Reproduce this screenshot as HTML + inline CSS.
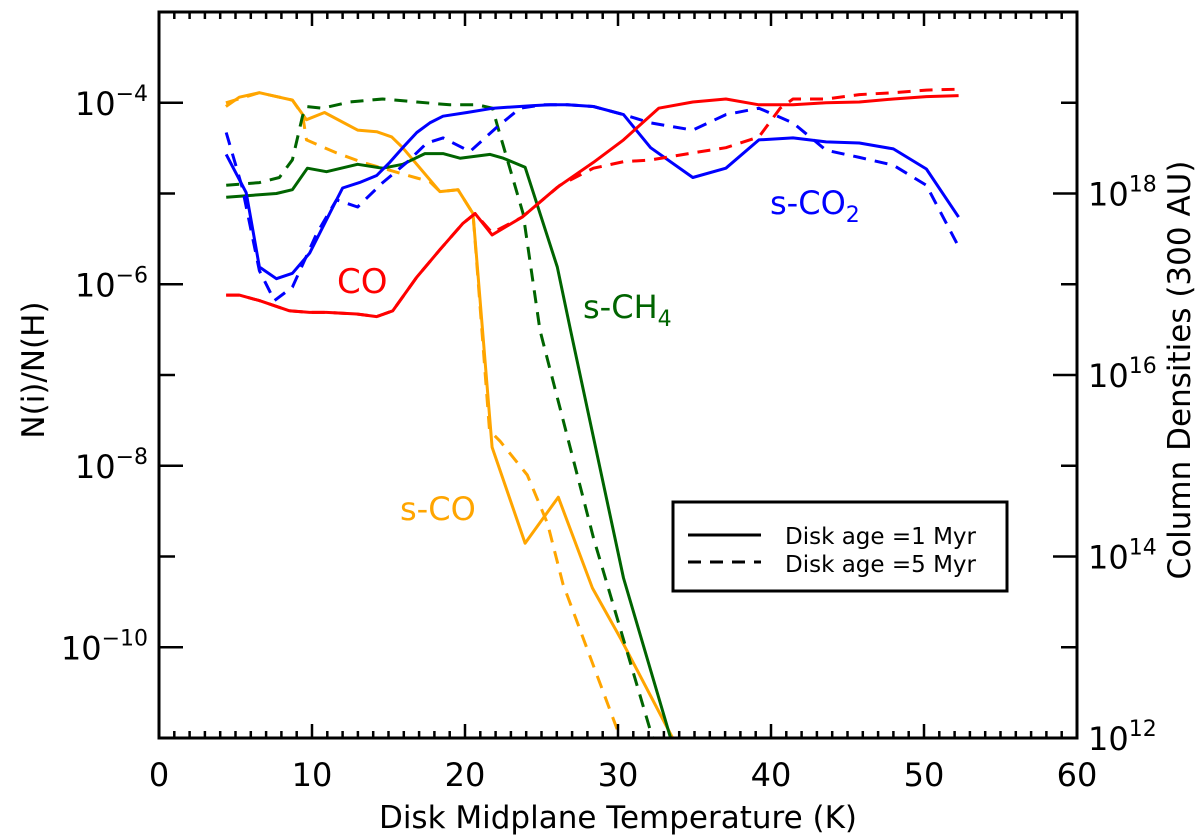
<!DOCTYPE html>
<html><head><meta charset="utf-8"><style>
html,body{margin:0;padding:0;background:#fff;}
svg{display:block;font-family:"DejaVu Sans","Liberation Sans",sans-serif;}
</style></head><body>
<svg id="chart" width="1200" height="839" viewBox="0 0 1200 839" xmlns="http://www.w3.org/2000/svg">
<defs><clipPath id="plotclip"><rect x="159" y="12" width="918" height="726"/></clipPath></defs>
<g id="series" clip-path="url(#plotclip)"></g>
<g id="axes"></g>
<text x="337" y="293" font-size="34" fill="#ff0000">CO</text>
<text x="583" y="318" font-size="32" fill="#006400">s-CH<tspan font-size="22" dy="8">4</tspan></text>
<text x="400" y="520" font-size="32" fill="#ffa500">s-CO</text>
<text x="770" y="214" font-size="32" fill="#0000ff">s-CO<tspan font-size="22" dy="8">2</tspan></text>
<g>
<rect x="673" y="502" width="334" height="89" fill="#fff" stroke="#000" stroke-width="3"/>
<line x1="688" y1="535" x2="761" y2="535" stroke="#000" stroke-width="3"/>
<line x1="688" y1="562" x2="761" y2="562" stroke="#000" stroke-width="3" stroke-dasharray="13,9"/>
<text x="785" y="544" font-size="23">Disk age =1 Myr</text>
<text x="785" y="572" font-size="23">Disk age =5 Myr</text>
</g>
<text x="618" y="828" font-size="31" text-anchor="middle">Disk Midplane Temperature (K)</text>
<text transform="translate(44,370) rotate(-90)" font-size="31" text-anchor="middle">N(i)/N(H)</text>
<text transform="translate(1190,370) rotate(-90)" font-size="31" text-anchor="middle">Column Densities (300 AU)</text>
<script>
// Data: temperature (K) and abundance N(i)/N(H)
const coSolidT=[4.39,5.25,6.56,8.52,9.84,10.95,12.92,14.23,15.28,16.85,18.36,19.87,20.66,21.77,23.74,26.03,28.39,30.36,32.66,34.89,37.05,39.21,41.44,43.6,45.77,48.0,50.16,52.26];
const coSolidV=[7.6e-7,7.6e-7,6.6e-7,5.1e-7,4.9e-7,4.9e-7,4.7e-7,4.4e-7,5.1e-7,1.2e-6,2.4e-6,4.7e-6,6.0e-6,3.5e-6,5.5e-6,1.17e-5,2.2e-5,3.9e-5,8.7e-5,1.02e-4,1.1e-4,9.5e-5,9.5e-5,1.0e-4,1.02e-4,1.1e-4,1.17e-4,1.2e-4];
const coDashT=[4.39,5.25,6.56,8.52,9.84,10.95,12.92,14.23,15.28,16.85,18.36,19.87,20.66,21.77,23.74,26.2,28.39,30.36,32.13,34.89,37.05,39.21,40.6,41.44,43.6,45.77,48.0,50.16,52.26];
const coDashV=[7.6e-7,7.6e-7,6.6e-7,5.1e-7,4.9e-7,4.9e-7,4.7e-7,4.4e-7,5.1e-7,1.2e-6,2.4e-6,4.7e-6,6.0e-6,3.7e-6,5.5e-6,1.23e-5,1.9e-5,2.24e-5,2.34e-5,2.8e-5,3.2e-5,4.2e-5,8.7e-5,1.1e-4,1.1e-4,1.23e-4,1.29e-4,1.38e-4,1.41e-4];
const ch4SolidT=[4.39,7.67,8.72,9.7,10.95,12.98,14.62,15.93,17.38,18.56,19.67,21.64,22.5,23.93,26.03,26.9,30.36,33.44,35.5];
const ch4SolidV=[9.1e-6,1.0e-5,1.1e-5,1.9e-5,1.74e-5,2.1e-5,1.9e-5,2.1e-5,2.75e-5,2.75e-5,2.45e-5,2.7e-5,2.45e-5,1.95e-5,1.55e-6,3.1e-7,5.8e-10,1.0e-11,1.0e-12];
const ch4DashT=[4.39,6.56,7.87,8.72,9.38,9.64,10.69,12.46,14.62,16.85,19.0,20.8,21.8,22.1,23.8,24.9,28.4,32.26,34.0];
const ch4DashV=[1.23e-5,1.32e-5,1.5e-5,2.35e-5,7.1e-5,9.1e-5,8.7e-5,1.02e-4,1.1e-4,1.02e-4,9.5e-5,9.5e-5,8.7e-5,5.75e-5,6.0e-6,3.1e-7,1.6e-9,1.0e-11,1.0e-12];
const scoSolidT=[4.37,5.25,6.56,7.67,8.72,9.64,10.82,12.98,14.23,15.21,15.93,18.36,19.54,20.52,21.77,23.93,26.1,28.33,30.16,33.57,36.0];
const scoSolidV=[9.1e-5,1.15e-4,1.29e-4,1.17e-4,1.07e-4,6.5e-5,7.8e-5,5.0e-5,4.8e-5,4.2e-5,3.2e-5,1.05e-5,1.1e-5,6.0e-6,1.6e-8,1.4e-9,4.5e-9,4.5e-10,1.26e-10,1.0e-11,1.0e-12];
const scoDashT=[4.37,6.56,8.72,9.38,9.64,11.6,13.3,16.85,17.7,18.36,19.54,20.52,21.6,22.3,24.07,25.4,26.4,30.16,32.0];
const scoDashV=[1.0e-4,1.29e-4,1.07e-4,7.4e-5,3.9e-5,2.8e-5,2.2e-5,1.48e-5,1.35e-5,1.05e-5,1.1e-5,6.0e-6,2.45e-8,1.86e-8,7.9e-9,2.3e-9,5.0e-10,1.0e-11,2.5e-12];
const co2SolidT=[4.39,5.7,6.56,7.67,8.72,9.84,11.15,12.0,13.1,14.23,15.08,15.93,16.85,17.7,18.56,20.13,21.84,24.46,25.57,26.69,28.39,30.36,32.13,34.89,37.05,39.21,41.44,43.6,45.77,48.0,50.16,52.26];
const co2SolidV=[2.7e-5,1.02e-5,1.55e-6,1.15e-6,1.32e-6,2.2e-6,6.0e-6,1.15e-5,1.32e-5,1.58e-5,2.2e-5,3.2e-5,4.7e-5,6.0e-5,7.1e-5,7.8e-5,8.7e-5,9.3e-5,9.5e-5,9.5e-5,9.1e-5,7.4e-5,3.2e-5,1.5e-5,1.9e-5,3.9e-5,4.1e-5,3.7e-5,3.6e-5,3.1e-5,1.86e-5,5.5e-6];
const co2DashT=[4.39,5.44,6.56,7.54,8.72,10.3,11.6,12.98,14.62,16.2,17.5,18.56,20.33,22.1,23.6,25.1,26.69,28.39,30.36,32.13,34.89,37.05,39.21,41.44,43.6,45.77,48.0,50.16,52.26];
const co2DashV=[4.7e-5,1.17e-5,1.41e-6,6.6e-7,9.3e-7,3.6e-6,8.5e-6,7.1e-6,1.32e-5,2.2e-5,3.6e-5,4.1e-5,2.9e-5,5.4e-5,8.7e-5,9.5e-5,9.5e-5,9.1e-5,7.4e-5,6.0e-5,5.0e-5,7.4e-5,8.7e-5,6.0e-5,3.0e-5,2.5e-5,2.05e-5,1.23e-5,2.6e-6];
const xTicks=[0,10,20,30,40,50,60];
const yTickExps=[-4,-6,-8,-10];
const rightTickExps=[12,14,16,18];

const NS='http://www.w3.org/2000/svg';
const L=159,R=1077,T=12,B=738,xMin=0,xMax=60,yMinE=-11,yMaxE=-3;
function xs(v){return L+(v-xMin)/(xMax-xMin)*(R-L);}
function ys(v){return B-(Math.log10(v)-yMinE)/(yMaxE-yMinE)*(B-T);}
function yE(e){return B-(e-yMinE)/(yMaxE-yMinE)*(B-T);}
function yR(e){return yE(e-23);}
const sg=document.getElementById('series');
function series(tArr,vArr,color,dashed,name){
  const p=document.createElementNS(NS,'polyline');
  p.setAttribute('points',tArr.map((t,i)=>xs(t).toFixed(1)+','+ys(vArr[i]).toFixed(1)).join(' '));
  p.setAttribute('fill','none');p.setAttribute('stroke',color);p.setAttribute('stroke-width','3');
  p.setAttribute('stroke-linejoin','round');
  if(dashed)p.setAttribute('stroke-dasharray','13,9');
  
  
  sg.appendChild(p);
}
series(scoSolidT,scoSolidV,'#ffa500',false,'s-co-1myr-line');
series(scoDashT,scoDashV,'#ffa500',true,'s-co-5myr-line');
series(ch4SolidT,ch4SolidV,'#006400',false,'s-ch4-1myr-line');
series(ch4DashT,ch4DashV,'#006400',true,'s-ch4-5myr-line');
series(co2SolidT,co2SolidV,'#0000ff',false,'s-co2-1myr-line');
series(co2DashT,co2DashV,'#0000ff',true,'s-co2-5myr-line');
series(coSolidT,coSolidV,'#ff0000',false,'co-1myr-line');
series(coDashT,coDashV,'#ff0000',true,'co-5myr-line');

const ax=document.getElementById('axes');
function line(x1,y1,x2,y2,w,name){
  const l=document.createElementNS(NS,'line');
  l.setAttribute('x1',x1);l.setAttribute('y1',y1);l.setAttribute('x2',x2);l.setAttribute('y2',y2);
  l.setAttribute('stroke','#000');l.setAttribute('stroke-width',w);
  
  
  ax.appendChild(l);
}
function txt(x,y,s,size,anchor,name){
  const t=document.createElementNS(NS,'text');
  t.setAttribute('x',x);t.setAttribute('y',y);t.setAttribute('font-size',size);
  t.setAttribute('text-anchor',anchor);t.textContent=s;
  
  
  ax.appendChild(t);return t;
}
function pow(x,y,base,exp,anchor,name){
  const t=txt(x,y,'',32,anchor,name);
  const a=document.createElementNS(NS,'tspan');a.textContent=base;t.appendChild(a);
  const b=document.createElementNS(NS,'tspan');b.textContent=exp;b.setAttribute('font-size','22');b.setAttribute('dy','-14');t.appendChild(b);
}
const frame=document.createElementNS(NS,'rect');
frame.setAttribute('x',L);frame.setAttribute('y',T);frame.setAttribute('width',R-L);frame.setAttribute('height',B-T);
frame.setAttribute('fill','none');frame.setAttribute('stroke','#000');frame.setAttribute('stroke-width','3');


ax.appendChild(frame);
for(let k=1;k<60;k++){
  const x=xs(k),len=(k%10===0)?14:7;
  line(x,B,x,B-len,2.5,'x-tick');
  line(x,T,x,T+len,2.5,'x-tick-top');
}
xTicks.forEach(v=>txt(xs(v),786,String(v),32,'middle','x-tick-label'));
for(let e=-10;e<=-4;e++){
  const y=yE(e),len=(e%2===0)?24:16;
  line(L,y,L+len,y,2.5,'y-tick');
}
yTickExps.forEach(e=>pow(148,yE(e)+12,'10','\u2212'+Math.abs(e),'end','y-tick-label'));
for(let e=12;e<=19;e++){
  const y=yR(e),len=(e%2===0)?24:16;
  line(R,y,R-len,y,2.5,'right-tick');
}
rightTickExps.forEach(e=>pow(1088,yR(e)+12,'10',String(e),'start','right-tick-label'));
</script>
</svg>
</body></html>
